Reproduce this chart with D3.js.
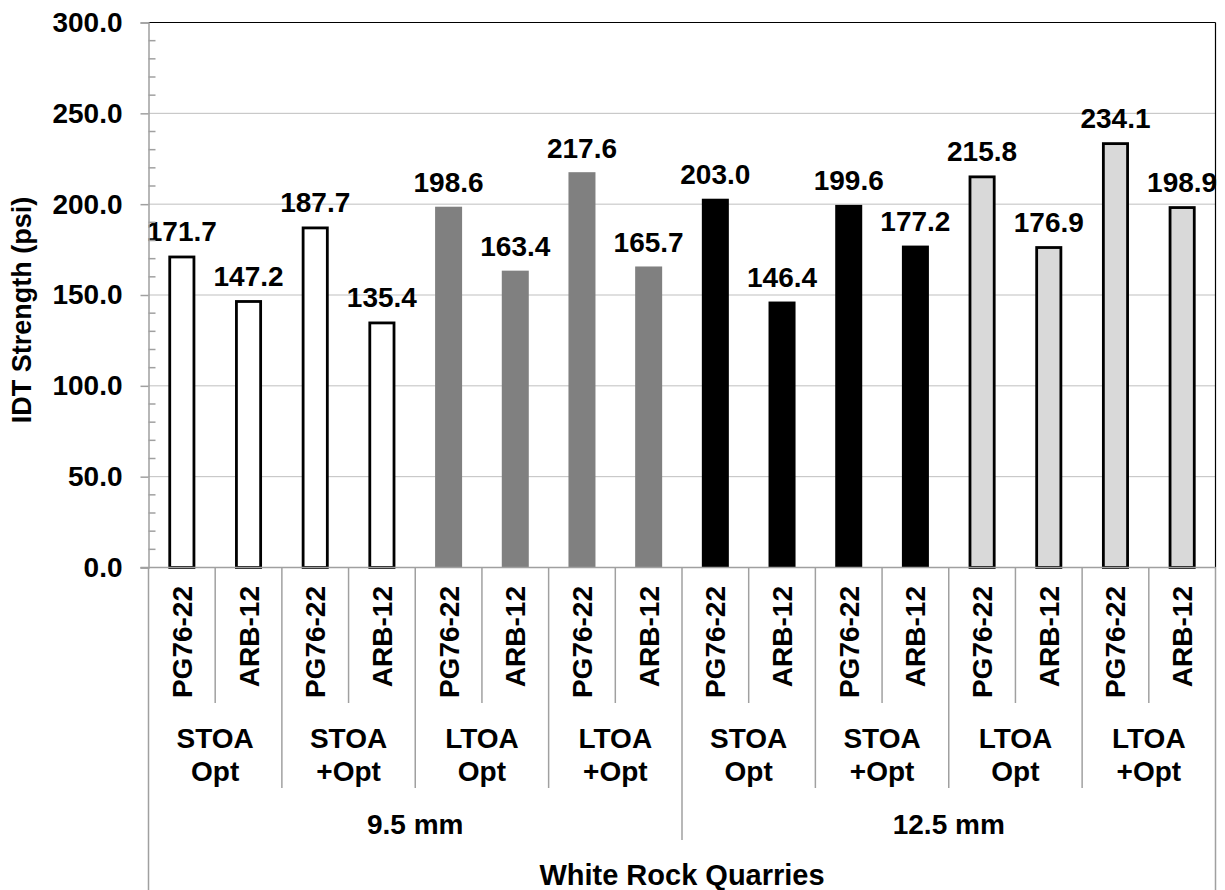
<!DOCTYPE html>
<html>
<head>
<meta charset="utf-8">
<script src="https://cdn.jsdelivr.net/npm/d3@7"></script>
<style>
  html, body { margin: 0; padding: 0; background: #fff; }
  svg { display: block; }
  text { font-family: Arial, "Liberation Sans", sans-serif; font-weight: bold; fill: #000; }
</style>
</head>
<body>
<svg id="chart" width="1225" height="890"></svg>
<script>
// ---- data ----
const binders = ["PG76-22", "ARB-12", "PG76-22", "ARB-12", "PG76-22", "ARB-12", "PG76-22", "ARB-12",
                 "PG76-22", "ARB-12", "PG76-22", "ARB-12", "PG76-22", "ARB-12", "PG76-22", "ARB-12"];
const conditions = [["STOA", "Opt"], ["STOA", "+Opt"], ["LTOA", "Opt"], ["LTOA", "+Opt"],
                    ["STOA", "Opt"], ["STOA", "+Opt"], ["LTOA", "Opt"], ["LTOA", "+Opt"]];
const sizes = ["9.5 mm", "12.5 mm"];
const values = [171.7, 147.2, 187.7, 135.4, 198.6, 163.4, 217.6, 165.7,
                203.0, 146.4, 199.6, 177.2, 215.8, 176.9, 234.1, 198.9];
// fill group per pair of conditions (4 bars each)
const fillGroups = ["STOA 9.5", "LTOA 9.5", "STOA 12.5", "LTOA 12.5"];
const groupFill = ["#ffffff", "#808080", "#000000", "#d9d9d9"];
const groupStroke = [true, false, false, true];
const yTicks = [0, 50, 100, 150, 200, 250, 300];
const xTitle = "White Rock Quarries";
const yTitle = "IDT Strength (psi)";

// ---- layout ----
const svg = d3.select("#chart");
const L = 148.5, R = 1215.5, T = 22.5, B = 567.5;
const idx = d3.range(values.length);
const x = d3.scaleBand().domain(idx).range([L, R]).paddingInner(0.595).paddingOuter(0.2975);
const step = (R - L) / values.length;
const y = d3.scaleLinear().domain([0, 300]).range([B, T]);
const gridColor = "#bfbfbf", axisColor = "#a0a0a0";

// gridlines
svg.append("g").selectAll("line").data(yTicks.filter(t => t > 0 && t < 300)).join("line")
  .attr("x1", L).attr("x2", R).attr("y1", d => y(d)).attr("y2", d => y(d))
  .attr("stroke", gridColor).attr("stroke-width", 1);

// plot border (top & right black)
svg.append("line").attr("x1", L).attr("x2", R).attr("y1", T).attr("y2", T).attr("stroke", "#000").attr("stroke-width", 1.2);
svg.append("line").attr("x1", R).attr("x2", R).attr("y1", T).attr("y2", B).attr("stroke", "#000").attr("stroke-width", 1.2);

// bars
svg.append("g").selectAll("rect").data(idx).join("rect")
  .each(function(i) {
    const g = Math.floor(i / 4);
    const sw = groupStroke[g] ? 2.8 : 0;
    d3.select(this)
      .attr("x", x(i) + sw / 2)
      .attr("width", x.bandwidth() - sw)
      .attr("y", y(values[i]) + sw / 2)
      .attr("height", y(0) - y(values[i]) - sw / 2)
      .attr("fill", groupFill[g])
      .attr("stroke", groupStroke[g] ? "#000" : "none")
      .attr("stroke-width", sw);
  });

// data labels
svg.append("g").selectAll("text").data(idx).join("text")
  .attr("x", i => x(i) + x.bandwidth() / 2)
  .attr("y", i => y(values[i]) - 14.5)
  .attr("text-anchor", "middle")
  .attr("font-size", 28)
  .text(i => values[i].toFixed(1));

// y axis
const yAxis = d3.axisLeft(y).tickValues(yTicks).tickSize(8).tickPadding(18).tickFormat(d => d.toFixed(1));
const ya = svg.append("g").attr("transform", `translate(${L},0)`).call(yAxis);
ya.select(".domain").attr("stroke", axisColor).attr("stroke-width", 1.5);
ya.selectAll(".tick line").attr("stroke", axisColor).attr("stroke-width", 1.5);
ya.selectAll(".tick text").attr("font-size", 28).attr("font-family", "Arial, 'Liberation Sans', sans-serif")
  .attr("font-weight", "bold").attr("fill", "#000");
// minor ticks inside
const minor = d3.range(10, 300, 10).filter(v => v % 50 !== 0);
svg.append("g").selectAll("line").data(minor).join("line")
  .attr("x1", L).attr("x2", L + 7).attr("y1", d => y(d)).attr("y2", d => y(d))
  .attr("stroke", axisColor).attr("stroke-width", 1.5);

// y title
svg.append("text")
  .attr("transform", `translate(31,${310}) rotate(-90)`)
  .attr("text-anchor", "middle").attr("font-size", 27).text(yTitle);

// x axis baseline
svg.append("line").attr("x1", L - 8).attr("x2", R).attr("y1", B).attr("y2", B)
  .attr("stroke", axisColor).attr("stroke-width", 1.5);

// category separators
const sepG = svg.append("g").attr("stroke", axisColor).attr("stroke-width", 1.5);
for (let k = 0; k <= values.length; k++) {
  const xx = L + k * step;
  let y2;
  if (k === 0 || k === values.length) y2 = 890;
  else if (k % 8 === 0) y2 = 840;
  else if (k % 2 === 0) y2 = 788;
  else y2 = 703;
  sepG.append("line").attr("x1", xx).attr("x2", xx).attr("y1", B).attr("y2", y2);
}

// level-1 labels (rotated)
svg.append("g").selectAll("text").data(idx).join("text")
  .attr("transform", i => `translate(${x(i) + x.bandwidth() / 2 + 10},586) rotate(-90)`)
  .attr("text-anchor", "end").attr("font-size", 28)
  .text(i => binders[i]);

// level-2 labels
const c2 = svg.append("g");
conditions.forEach((c, j) => {
  const cx = L + (j * 2 + 1) * step;
  c2.append("text").attr("x", cx).attr("y", 748).attr("text-anchor", "middle").attr("font-size", 28).text(c[0]);
  c2.append("text").attr("x", cx).attr("y", 781).attr("text-anchor", "middle").attr("font-size", 28).text(c[1]);
});

// level-3 labels
sizes.forEach((s, j) => {
  svg.append("text").attr("x", L + (j * 8 + 4) * step).attr("y", 834)
    .attr("text-anchor", "middle").attr("font-size", 28).text(s);
});

// x title
svg.append("text").attr("x", (L + R) / 2).attr("y", 885).attr("text-anchor", "middle")
  .attr("font-size", 29).text(xTitle);
</script>
</body>
</html>
